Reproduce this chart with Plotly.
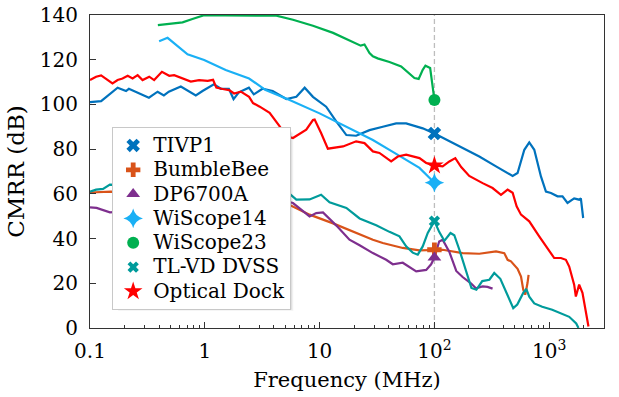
import math
import plotly.graph_objects as go

# ---- measured CMRR curves (frequency in MHz, CMRR in dB) ----
tivp1_f = [0.1, 0.125, 0.174, 0.206, 0.218, 0.326, 0.388, 0.44, 0.486, 0.618, 0.835, 0.955,
           1.2, 1.38, 1.62, 1.78, 1.98, 2.42, 2.67, 3.18, 3.9, 5.13, 6.27, 7.41, 8.75, 11.4,
           14.0, 17.1, 20.8, 27.2, 35.5, 46.4, 56.7, 79.1, 100, 176, 246, 344, 480, 530, 607,
           670, 741, 847, 936, 1035, 1181, 1305, 1443, 1649, 1823, 1886, 1976]
tivp1_db = [101, 101.5, 107.5, 106, 107, 103, 105.7, 104, 105.7, 108, 104, 106,
            109, 107, 107, 102.4, 105.4, 107.5, 104.5, 107, 106, 102.4, 103.4, 107.5, 103.4, 99,
            92.3, 86.3, 86, 88.5, 90, 91.5, 91.5, 89.3, 87, 80.5, 76.7, 72.3, 68, 69.3, 79.7,
            83, 79.7, 67.8, 61, 60.4, 58.9, 58.9, 55.9, 58, 57.4, 58, 49.2]

bumble_f = [0.1, 0.152, 5.12, 8.18, 13.1, 20.8, 22.3, 29.1, 35.5, 53, 74.1, 100, 118, 176,
            246, 344, 406, 434, 464, 530, 568, 594, 618, 647, 661]
bumble_db = [60.6, 61, 55.8, 50.7, 46.8, 42.5, 41.7, 39.5, 38, 35.8, 34.7, 35, 35, 33.5,
             33.2, 34.3, 33.5, 30.5, 29.8, 26.5, 23, 17.1, 14.9, 20.1, 23.8]

dp_f = [0.1, 0.114, 0.149, 5.12, 5.86, 8.18, 9.35, 10.7, 14, 18.2, 22.3, 29.1, 38, 43.4,
        53, 60.7, 69.4, 84.8, 93.6, 100, 110, 118, 135, 155, 176, 208, 230, 263, 290, 321]
dp_db = [54, 53.7, 51.7, 56.6, 55.9, 49.9, 51.4, 51.7, 45.8, 39.5, 37, 33.5, 30.5, 28.5,
         29.2, 27.3, 25.3, 26, 28.5, 31.5, 38.7, 39.5, 34, 25.5, 22.8, 20, 17.8, 18.6, 18.4, 17.6]

wis14_f = [0.4, 0.474, 0.707, 0.987, 1.52, 2.43, 3.39, 5.48, 10, 18.2, 29.1, 43.4, 53, 74.1, 100]
wis14_db = [128.3, 129.8, 122.4, 119.9, 115.4, 111.6, 106.4, 102, 96, 89.3, 84.1, 78.8, 76,
            71.6, 65]

wis23_f = [0.39, 0.64, 0.78, 0.97, 1.5, 2.5, 4.2, 5.86, 8.75, 13.1, 17.1, 20.8, 22.8, 24.6,
           27.2, 29.1, 32, 40.6, 51.3, 67, 72.9, 79.1, 83.5, 91.8, 96.6, 100]
wis23_db = [135.5, 136.7, 138.2, 139.8, 139.8, 139.9, 139.7, 137.9, 135.2, 132, 129.3, 127.5,
            126.3, 126.8, 123, 121.5, 120.6, 119, 117, 111.8, 111.4, 115.5, 117.3, 116.3, 108,
            102]

tlvd_f = [0.1, 0.113, 0.13, 0.149, 4.97, 6.27, 8.18, 10.3, 12.2, 17.1, 22.3, 31.1, 40.6,
          49.6, 56.7, 64.7, 71.6, 79.1, 87.5, 100, 110, 122, 138, 149, 165, 186, 210, 232,
          261, 301, 332, 375, 431, 486, 527, 594, 631, 670, 741, 869, 1062, 1271, 1493,
          1718, 1799]
tlvd_db = [61, 61.9, 62.2, 64.1, 61.9, 57.4, 57.5, 59.6, 56.2, 53.7, 49, 46, 43,
           41, 36.5, 33.7, 32.8, 36.5, 42.5, 47.8, 43, 39, 42.5, 41.5, 35, 26, 17.9, 17.1,
           21, 21.6, 24.6, 22, 15, 8.9, 10.5, 15.7, 17.5, 14, 11, 9.5, 8.2, 6.7, 5,
           2, 0]

optical_f = [0.1, 0.113, 0.125, 0.138, 0.157, 0.174, 0.192, 0.213, 0.235, 0.26, 0.287, 0.328,
             0.362, 0.423, 0.49, 0.541, 0.64, 0.755, 0.892, 1.06, 1.18, 1.26, 1.43, 1.63, 1.8,
             2.06, 2.43, 2.63, 3.01, 3.67, 4.49, 5.13, 5.86, 7.65, 8.75, 9.05, 10.3, 11.8, 16,
             20.8, 24.6, 29.1, 33.2, 42, 48, 56.7, 74.1, 84.8, 100, 118, 135, 152, 171, 201,
             263, 321, 380, 434, 480, 520, 568, 670, 818, 1000, 1105, 1264, 1397, 1493, 1649,
             1706, 1823, 1948, 2084, 2197]
optical_db = [110.9, 112.4, 113, 111.6, 109.4, 110.9, 111.6, 112.8, 111.6, 113.1, 110.9, 112.4,
              110.9, 114.6, 112.8, 113.1, 111.6, 110.2, 110.9, 110.5, 111, 107.5, 106.9, 106.4,
              104.9, 105.7, 103.4, 100.6, 99, 96.2, 90.2, 85.7, 85, 88.7, 93, 93.2, 87.2, 80.2,
              81.2, 83.5, 82.7, 79, 78.3, 74.5, 76.7, 77.5, 76, 73.8, 72.7, 72.3, 74.5, 76, 72,
              68, 64.8, 62.6, 59.6, 61.9, 60.5, 54.4, 50.7, 47.7, 41, 34.3, 31.3, 31.3, 30.5,
              27.5, 19.4, 14.1, 19.4, 15.7, 6.7, 0.7]

# CMRR of each probe at the 100 MHz comparison frequency
mark_f = 100
names = ["TIVP1", "BumbleBee", "DP6700A", "WiScope14", "WiScope23", "TL-VD DVSS", "Optical Dock"]
mark_db = [87, 35, 31.5, 65, 102, 47.8, 72.7]

curves_f = [tivp1_f, bumble_f, dp_f, wis14_f, wis23_f, tlvd_f, optical_f]
curves_db = [tivp1_db, bumble_db, dp_db, wis14_db, wis23_db, tlvd_db, optical_db]
colors = ["#0072BD", "#D95319", "#7E2F8E", "#1AB0F5", "#00B050", "#009B9B", "#FF0000"]
symbols = ["x", "cross", "triangle-up", "star-diamond", "circle", "x", "star"]
sizes = [12, 12, 12, 14, 12, 10, 14]

FONT = "DejaVu Serif"

fig = go.Figure()

# vertical guide at the comparison frequency
fig.add_trace(go.Scatter(x=[mark_f, mark_f], y=[0, 140], mode="lines",
                         line=dict(color="#bdbdbd", width=1.3, dash="5px,3px"),
                         showlegend=False, hoverinfo="skip"))

for f, db, c, n in zip(curves_f, curves_db, colors, names):
    fig.add_trace(go.Scatter(x=f, y=db, mode="lines", name=n,
                             line=dict(color=c, width=2.2), showlegend=False))

for n, v, c, s, sz in zip(names, mark_db, colors, symbols, sizes):
    fig.add_trace(go.Scatter(
        x=[mark_f], y=[v], mode="markers",
        name="<span style=\"font-family:'DejaVu Serif';font-size:20px\">%s</span>" % n,
        marker=dict(color=c, symbol=s, size=sz, line=dict(width=0)),
        showlegend=True))

# plot-area geometry (px) used to place the legend and its drop shadow
W, H = 619, 397
L, R, T, B = 89.5, 15, 15, 69
pw, ph = W - L - R, H - T - B


def px_x(x):
    return (x - L) / pw


def px_y(y):
    return (H - B - y) / ph


leg_left, leg_top = 111.7, 127.3
box_right, box_bottom = 287, 305

shapes = []
for off, op in [(6, 0.06), (5, 0.09), (4, 0.13), (3, 0.17)]:
    shapes.append(dict(type="rect", xref="paper", yref="paper", layer="above",
                       x0=px_x(leg_left + off), x1=px_x(box_right + off),
                       y0=px_y(box_bottom + off), y1=px_y(leg_top + off),
                       fillcolor="rgba(90,90,90,%s)" % op, line=dict(width=0)))

fig.update_layout(
    width=W, height=H,
    margin=dict(l=L, r=R, t=T, b=B, pad=0, autoexpand=False),
    paper_bgcolor="white", plot_bgcolor="white",
    font=dict(family=FONT, size=20, color="black"),
    shapes=shapes,
    legend=dict(x=px_x(leg_left), y=px_y(leg_top), xanchor="left", yanchor="top",
                bgcolor="white", bordercolor="#c8c8c8", borderwidth=1,
                font=dict(family=FONT, size=16.4, color="black"),
                itemsizing="trace"),
)

minor_x = [m * 10 ** e for e in range(-1, 4) for m in range(2, 10) if m * 10 ** e <= 3000]

fig.update_xaxes(
    type="log", range=[-1, math.log10(3000)], automargin=False,
    tickmode="array", tickvals=[0.1, 1, 10, 100, 1000],
    ticktext=["0.1", "1", "10", "10<sup>2</sup>", "10<sup>3</sup>"],
    ticks="inside", ticklen=6, tickwidth=1, tickcolor="#333",
    minor=dict(ticks="inside", ticklen=3, tickwidth=1, tickcolor="#333",
               tickmode="array", tickvals=minor_x, showgrid=False),
    showline=True, linecolor="#333", linewidth=1.2, mirror=True,
    showgrid=False, zeroline=False,
    tickfont=dict(family=FONT, size=20), ticklabelstandoff=5,
    title=dict(text="Frequency (MHz)", font=dict(family=FONT, size=21), standoff=10),
)
fig.update_yaxes(
    range=[0, 140], tickmode="linear", tick0=0, dtick=20, automargin=False,
    ticks="inside", ticklen=6, tickwidth=1, tickcolor="#333",
    showline=True, linecolor="#333", linewidth=1.2, mirror=True,
    showgrid=False, zeroline=False,
    tickfont=dict(family=FONT, size=20), ticklabelstandoff=7,
    title=dict(text="CMRR (dB)", font=dict(family=FONT, size=23), standoff=8),
)

fig.write_html("out.html")
